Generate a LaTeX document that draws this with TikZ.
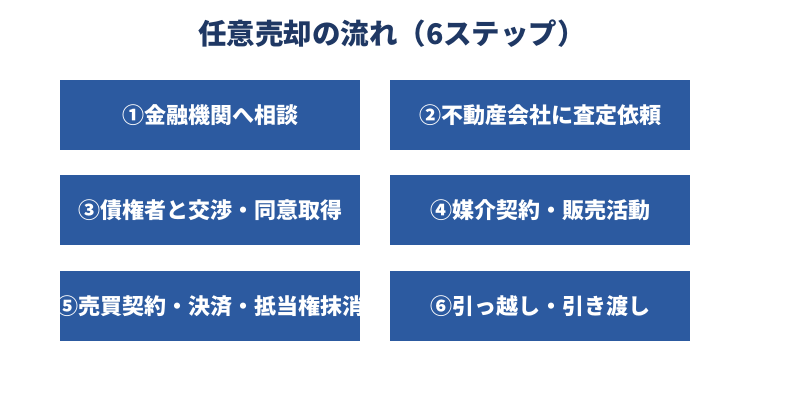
\documentclass[tikz,border=0pt]{standalone}
\usepackage{fontspec}
\setmainfont{Noto Sans CJK JP}
\usepackage{xcolor}
\definecolor{stepblue}{RGB}{44, 90, 160}
\definecolor{titlenavy}{RGB}{31, 56, 100}
\usetikzlibrary{positioning}

\begin{document}
\begin{tikzpicture}[
    x=1pt, y=1pt,
    node distance=25pt and 30pt,
    stepbox/.style={rectangle, fill=stepblue, minimum width=300pt, minimum height=70pt,
                    inner sep=0pt, text=white, font=\fontsize{22}{26}\selectfont\bfseries}
]
    \useasboundingbox (0,0) rectangle (800,-420);
    \node[font=\fontsize{28.5}{32}\selectfont\bfseries, text=titlenavy] (title) at (392,-34) {任意売却の流れ（6ステップ）};
    \node[stepbox] (s1) at (210,-115) {①金融機関へ相談};
    \node[stepbox, right=of s1] (s2) {②不動産会社に査定依頼};
    \node[stepbox, below=of s1] (s3) {③債権者と交渉・同意取得};
    \node[stepbox, right=of s3] (s4) {④媒介契約・販売活動};
    \node[stepbox, below=of s3] (s5) {};
    \node[stepbox, right=of s5] (s6) {⑥引っ越し・引き渡し};
    % step 5 text is wider than its box
    \begin{scope}
        \clip (s5.south west) rectangle (s5.north east);
        \node[stepbox, fill=none] (s5text) at (s5) {⑤売買契約・決済・抵当権抹消};
    \end{scope}
\end{tikzpicture}
\end{document}
